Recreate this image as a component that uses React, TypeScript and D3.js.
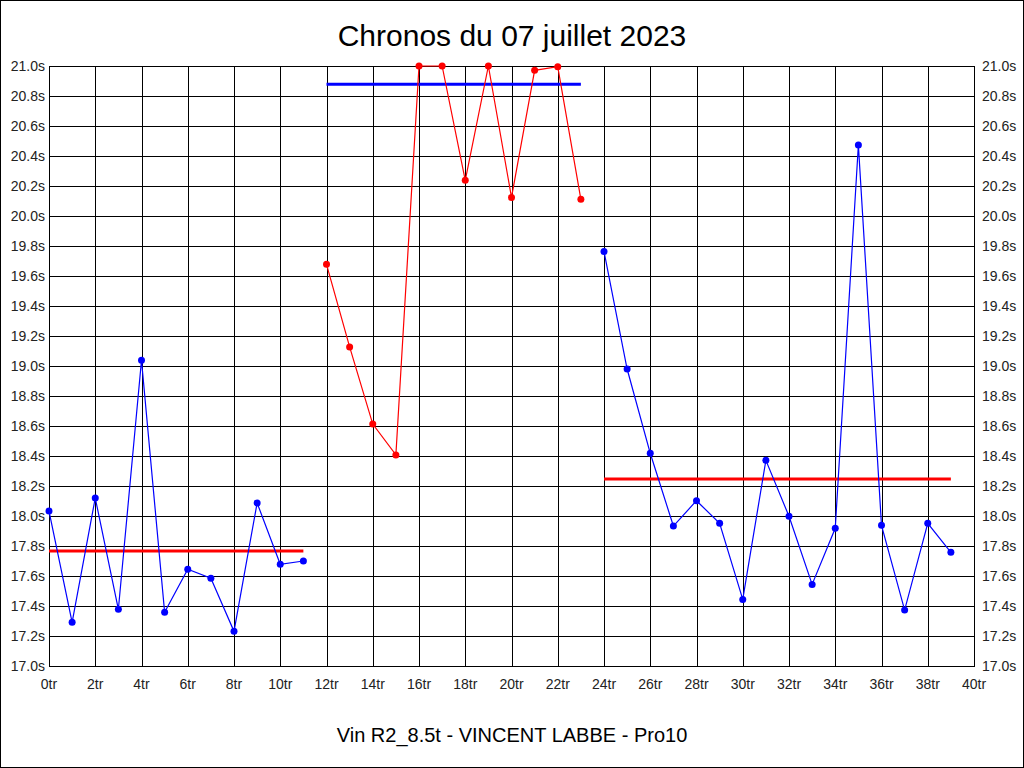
import React, { useEffect } from "react";
import * as d3 from "d3";

const title = "Chronos du 07 juillet 2023";
const subtitle = "Vin R2_8.5t - VINCENT LABBE - Pro10";

const group1Laps = [0, 1, 2, 3, 4, 5, 6, 7, 8, 9, 10, 11];
const group1Times = [18.033, 17.291, 18.12, 17.378, 19.038, 17.358, 17.645, 17.585, 17.231, 18.087, 17.678, 17.7];
const group1Mean = 17.767;

const group2Laps = [12, 13, 14, 15, 16, 17, 18, 19, 20, 21, 22, 23];
const group2Times = [19.678, 19.127, 18.613, 18.407, 21.0, 21.0, 20.238, 21.0, 20.124, 20.971, 20.995, 20.111];
const group2Mean = 20.878;

const group3Laps = [24, 25, 26, 27, 28, 29, 30, 31, 32, 33, 34, 35, 36, 37, 38, 39];
const group3Times = [19.764, 18.98, 18.418, 17.933, 18.102, 17.951, 17.444, 18.371, 17.998, 17.544, 17.918, 20.473, 17.938, 17.373, 17.951, 17.758];
const group3Mean = 18.247;

const xTicks = d3.range(0, 41, 2);
const yTicks = d3.range(0, 21).map((i) => 17 + i * 0.2);

const W = 1024;
const H = 768;
const left = 49;
const right = 974;
const top = 66;
const bottom = 666;

const x = d3.scaleLinear().domain([0, 40]).range([left, right]);
const y = d3.scaleLinear().domain([17, 21]).range([bottom, top]);

const FONT = "'Liberation Sans', Arial, sans-serif";

function Series({ laps, times, mean, color, meanColor }: { laps: number[]; times: number[]; mean: number; color: string; meanColor: string }) {
  const pts = laps.map((l, i) => [l, times[i]] as [number, number]);
  const line = d3.line<[number, number]>().x((d) => x(d[0])).y((d) => y(d[1]));
  return (
    <g>
      <line x1={x(laps[0])} x2={x(laps[laps.length - 1])} y1={y(mean)} y2={y(mean)} stroke={meanColor} strokeWidth={3} />
      <path d={line(pts) || ""} fill="none" stroke={color} strokeWidth={1.2} />
      {pts.map((p, i) => (
        <circle key={i} cx={x(p[0])} cy={y(p[1])} r={3.5} fill={color} />
      ))}
    </g>
  );
}

export default function App() {
  useEffect(() => {
    document.body.style.margin = "0";
  }, []);
  return (
    <svg width={W} height={H} style={{ display: "block" }} fontFamily={FONT}>
      <rect x={0} y={0} width={W} height={H} fill="#fff" />
      <rect x={0.5} y={0.5} width={W - 1} height={H - 1} fill="none" stroke="#000" strokeWidth={1} />
      <text x={W / 2} y={46} textAnchor="middle" fontSize={30} fill="#000">{title}</text>
      <g shapeRendering="crispEdges">
        {xTicks.map((t) => (
          <line key={"gx" + t} x1={Math.round(x(t)) + 0.5} x2={Math.round(x(t)) + 0.5} y1={top} y2={bottom} stroke="#000" strokeWidth={1} />
        ))}
        {yTicks.map((t, i) => (
          <line key={"gy" + i} x1={left} x2={right} y1={Math.round(y(t)) + 0.5} y2={Math.round(y(t)) + 0.5} stroke="#000" strokeWidth={1} />
        ))}
        <rect x={left + 0.5} y={top + 0.5} width={right - left} height={bottom - top} fill="none" stroke="#000" />
      </g>
      {yTicks.map((t, i) => (
        <g key={"yl" + i}>
          <text x={left - 4} y={y(t) + 5} textAnchor="end" fontSize={14} fill="#222">{t.toFixed(1) + "s"}</text>
          <text x={right + 8} y={y(t) + 5} textAnchor="start" fontSize={14} fill="#222">{t.toFixed(1) + "s"}</text>
        </g>
      ))}
      {xTicks.map((t) => (
        <text key={"xl" + t} x={x(t)} y={bottom + 23} textAnchor="middle" fontSize={14} fill="#222">{t + "tr"}</text>
      ))}
      <Series laps={group1Laps} times={group1Times} mean={group1Mean} color="#0000ff" meanColor="#ff0000" />
      <Series laps={group2Laps} times={group2Times} mean={group2Mean} color="#ff0000" meanColor="#0000ff" />
      <Series laps={group3Laps} times={group3Times} mean={group3Mean} color="#0000ff" meanColor="#ff0000" />
      <text x={W / 2} y={742} textAnchor="middle" fontSize={20} fill="#000">{subtitle}</text>
    </svg>
  );
}
